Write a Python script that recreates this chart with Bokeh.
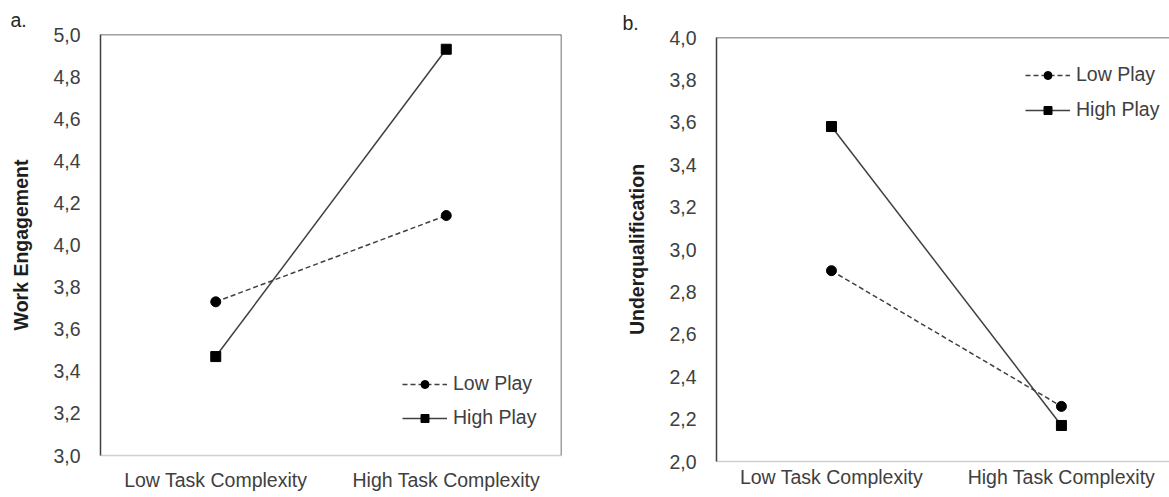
from bokeh.plotting import figure
from bokeh.layouts import row, column
from bokeh.models import (Range1d, FixedTicker, CustomJSTickFormatter,
                          Legend, LegendItem, Span)
from bokeh.embed import file_html
from bokeh.resources import INLINE

# ---------------- data ----------------
categories = ["Low Task Complexity", "High Task Complexity"]
series_names = ["Low Play", "High Play"]

engagement_low_play = [3.73, 4.14]
engagement_high_play = [3.47, 4.93]

underqual_low_play = [2.90, 2.26]
underqual_high_play = [3.58, 2.17]

y_ticks_a = [3.0, 3.2, 3.4, 3.6, 3.8, 4.0, 4.2, 4.4, 4.6, 4.8, 5.0]
y_ticks_b = [2.0, 2.2, 2.4, 2.6, 2.8, 3.0, 3.2, 3.4, 3.6, 3.8, 4.0]

# ---------------- style ----------------
FONT = "Liberation Sans"
TICK_SIZE = "19.5px"
TEXT_COLOR = "#404040"
BORDER = "#404040"
LINE_COLOR = "#404040"

xs = [i + 0.5 for i in range(len(categories))]


def make_panel(width, height, x_end, y_range, y_ticks, low_vals, high_vals, ylabel,
               borders, legend_loc, legend_spacing, letter, letter_off, letter_standoff,
               x_standoff, right_border):
    p = figure(width=width, height=height, output_backend="svg", toolbar_location=None,
               x_range=Range1d(0, x_end), y_range=Range1d(*y_range),
               min_border_left=borders[0], min_border_right=borders[1],
               min_border_top=borders[2], min_border_bottom=borders[3])
    p.outline_line_color = None
    p.xgrid.visible = False
    p.ygrid.visible = False
    p.background_fill_color = "white"
    p.border_fill_color = "white"

    # panel letter as title
    p.title.text = letter
    p.title.align = "left"
    p.title.offset = letter_off
    p.title.standoff = letter_standoff
    p.title.text_font = FONT
    p.title.text_font_size = TICK_SIZE
    p.title.text_font_style = "normal"
    p.title.text_color = "#262626"

    # x axis
    xa = p.xaxis[0]
    xa.ticker = FixedTicker(ticks=xs)
    xa.formatter = CustomJSTickFormatter(args=dict(cats=categories),
                                         code="return cats[Math.round(tick - 0.5)];")
    xa.major_tick_out = 0
    xa.major_tick_in = 0
    xa.minor_tick_out = 0
    xa.minor_tick_in = 0
    xa.axis_line_color = "#d0d0d0"
    xa.axis_line_width = 1.5
    xa.major_label_standoff = x_standoff
    xa.major_label_text_font = FONT
    xa.major_label_text_font_size = TICK_SIZE
    xa.major_label_text_color = TEXT_COLOR

    # y axis
    ya = p.yaxis[0]
    ya.ticker = FixedTicker(ticks=y_ticks)
    ya.formatter = CustomJSTickFormatter(code="return tick.toFixed(1).replace('.', ',');")
    ya.major_tick_out = 0
    ya.major_tick_in = 0
    ya.minor_tick_out = 0
    ya.minor_tick_in = 0
    ya.axis_line_color = BORDER
    ya.axis_line_width = 1.5
    ya.major_label_standoff = 20
    ya.major_label_text_font = FONT
    ya.major_label_text_font_size = TICK_SIZE
    ya.major_label_text_color = TEXT_COLOR
    ya.axis_label = ylabel
    ya.axis_label_standoff = 18
    ya.axis_label_text_font = FONT
    ya.axis_label_text_font_size = "19.5px"
    ya.axis_label_text_font_style = "bold"
    ya.axis_label_text_color = "#1e1e1e"

    # frame borders (top, and right where visible)
    p.add_layout(Span(location=y_range[1], dimension="width", line_color=BORDER,
                      line_width=1.5))
    if right_border:
        p.add_layout(Span(location=x_end, dimension="height", line_color=BORDER,
                          line_width=1.5))

    l1 = p.line(xs, low_vals, line_color=LINE_COLOR, line_width=1.5, line_dash="5 3")
    s1 = p.scatter(xs, low_vals, marker="circle", size=10, fill_color="black",
                   line_color="black")
    l2 = p.line(xs, high_vals, line_color=LINE_COLOR, line_width=1.5)
    s2 = p.scatter(xs, high_vals, marker="square", size=10, fill_color="black",
                   line_color="black")

    legend = Legend(items=[LegendItem(label=series_names[0], renderers=[l1, s1]),
                           LegendItem(label=series_names[1], renderers=[l2, s2])],
                    location=legend_loc)
    legend.border_line_color = None
    legend.background_fill_alpha = 0
    legend.padding = 0
    legend.margin = 0
    legend.spacing = legend_spacing
    legend.glyph_width = 45
    legend.glyph_height = 20
    legend.label_height = 20
    legend.label_standoff = 6
    legend.label_text_font = FONT
    legend.label_text_font_size = TICK_SIZE
    legend.label_text_color = TEXT_COLOR
    p.add_layout(legend)
    return p


pa = make_panel(600, 497, 2.0, (3.0, 5.0), y_ticks_a, engagement_low_play,
                engagement_high_play, "Work Engagement",
                (100, 39, 34, 42), (302, 26), 11, "a.", -90, 8, 13, True)

pb = make_panel(569, 497, 1.97, (2.0, 4.0), y_ticks_b, underqual_low_play,
                underqual_high_play, "Underqualification",
                (116, 0, 37, 36), (309, 340), 12, "b.", -94, 8, 4, False)

layout = row(column(pa), column(pb))

open("out.html", "w").write(file_html(layout, INLINE))
